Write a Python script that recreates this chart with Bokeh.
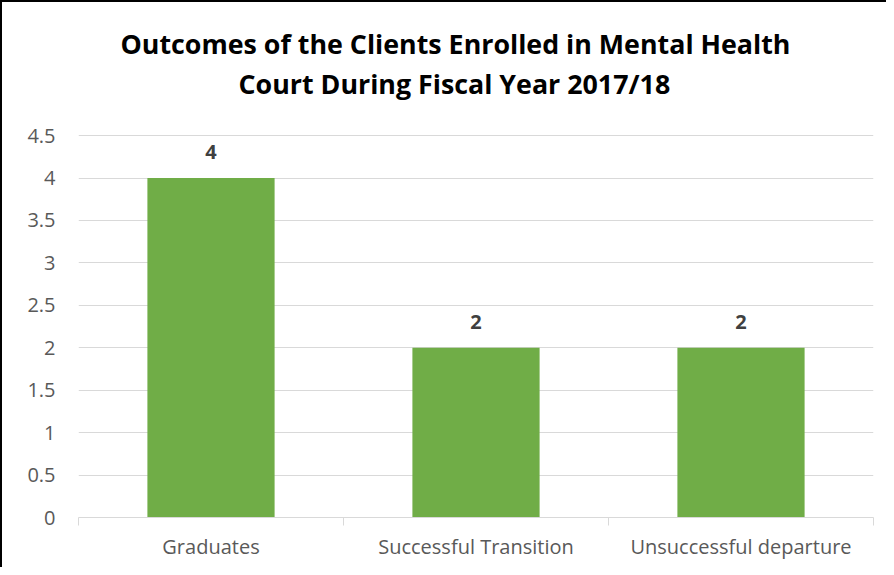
from bokeh.plotting import figure
from bokeh.models import (Range1d, FixedTicker, Title, ColumnDataSource)
from bokeh.core.properties import value
from bokeh.embed import file_html
from bokeh.resources import INLINE

categories = ["Graduates", "Successful Transition", "Unsuccessful departure"]
counts = [4, 2, 2]
y_ticks = [0, 0.5, 1, 1.5, 2, 2.5, 3, 3.5, 4, 4.5]
y_tick_labels = ["0", "0.5", "1", "1.5", "2", "2.5", "3", "3.5", "4", "4.5"]
title_lines = ["Outcomes of the Clients Enrolled in Mental Health",
               "Court During Fiscal Year 2017/18"]

W, H = 886, 567
FONT = "Open Sans"
Y_TOP = 4.89   # a little headroom above the top gridline (blank space under title)

p = figure(width=W, height=H, output_backend="svg", toolbar_location=None,
           x_range=Range1d(0, len(categories)), y_range=Range1d(0, Y_TOP),
           min_border_left=76, min_border_right=15,
           min_border_top=100, min_border_bottom=52)
p.background_fill_color = "white"
p.border_fill_color = "white"
p.outline_line_color = None
p.styles = {"border-left": "2px solid black", "border-top": "2px solid black",
            "box-sizing": "border-box"}

xs = [i + 0.5 for i in range(len(categories))]
src = ColumnDataSource(dict(x=xs, top=counts, lab=[str(c) for c in counts]))
p.vbar(x="x", top="top", width=0.48, bottom=0, source=src,
       fill_color="#70ad47", line_color=None)
p.text(x="x", y="top", text="lab", source=src, text_align="center",
       text_baseline="bottom", y_offset=-19, text_font=value(FONT),
       text_font_style="bold", text_font_size="20px", text_color="#404040")

# y axis
yax = p.yaxis[0]
yax.ticker = FixedTicker(ticks=y_ticks)
yax.major_label_overrides = {t: l for t, l in zip(y_ticks, y_tick_labels)}
yax.axis_line_color = None
yax.major_tick_line_color = None
yax.minor_tick_line_color = None
yax.major_tick_out = 0
yax.major_tick_in = 0
yax.major_label_standoff = 23
yax.major_label_text_font = FONT
yax.major_label_text_font_size = "20px"
yax.major_label_text_color = "#595959"

# x axis
xax = p.xaxis[0]
xax.ticker = FixedTicker(ticks=xs, minor_ticks=list(range(len(categories) + 1)))
xax.major_label_overrides = {x: c for x, c in zip(xs, categories)}
xax.axis_line_color = "#d9d9d9"
xax.axis_line_width = 1
xax.major_tick_line_color = None
xax.major_tick_out = 0
xax.major_tick_in = 0
xax.minor_tick_line_color = "#d9d9d9"
xax.minor_tick_out = 8
xax.minor_tick_in = 0
xax.major_label_standoff = 7
xax.major_label_text_font = FONT
xax.major_label_text_font_size = "20px"
xax.major_label_text_color = "#595959"

p.xgrid.grid_line_color = None
p.ygrid.grid_line_color = "#d9d9d9"
p.ygrid.grid_line_width = 1
p.ygrid.ticker = FixedTicker(ticks=y_ticks[1:])

# two-line chart title (line nearest the plot is added first)
title_offsets = [42, 160]
for line, off in reversed(list(zip(title_lines, title_offsets))):
    p.add_layout(Title(text=line, align="left", offset=off, text_font=FONT,
                       text_font_size="26.8px", text_font_style="bold",
                       text_color="#000000", standoff=1), "above")

open("out.html", "w").write(file_html(p, INLINE))
